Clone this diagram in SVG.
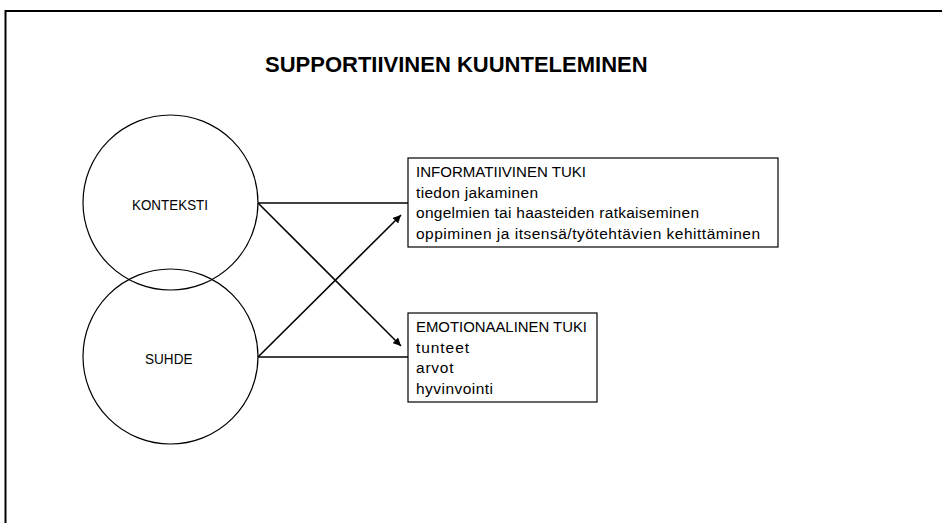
<svg xmlns="http://www.w3.org/2000/svg" width="942" height="523" viewBox="0 0 942 523">
  <defs>
    <style>
      .t { font-family: "Liberation Sans", Arial, sans-serif; font-size: 15.5px; fill: #000; }
      .title { font-family: "Liberation Sans", Arial, sans-serif; font-size: 22px; font-weight: bold; fill: #000; }
      .lbl { font-family: "Liberation Sans", Arial, sans-serif; font-size: 15px; fill: #000; }
      .shape { fill: none; stroke: #000; stroke-width: 1.2; }
      .box { fill: #fff; stroke: #000; stroke-width: 1.2; }
      .conn { fill: none; stroke: #000; stroke-width: 1.6; }
    </style>
    <marker id="arrow" viewBox="0 0 10 10" refX="10" refY="5" markerWidth="5" markerHeight="5" orient="auto" markerUnits="strokeWidth">
      <path d="M0,0 L10,5 L0,10 z" fill="#000"/>
    </marker>
  </defs>
  <rect width="942" height="523" fill="#fff"/>
  <path d="M5.5,525 V11 H945" fill="none" stroke="#000" stroke-width="2"/>

  <text class="title" x="265" y="72">SUPPORTIIVINEN KUUNTELEMINEN</text>

  <g id="connectors">
    <line class="conn" x1="258" y1="203" x2="408" y2="203"/>
    <line class="conn" x1="258" y1="357" x2="408" y2="357"/>
    <line class="conn" x1="258" y1="203" x2="401" y2="346" marker-end="url(#arrow)"/>
    <line class="conn" x1="258" y1="357" x2="401" y2="215" marker-end="url(#arrow)"/>
  </g>

  <g id="konteksti">
    <circle class="shape" cx="170.5" cy="202.5" r="87.5"/>
    <text class="lbl" x="132" y="210" textLength="76" lengthAdjust="spacingAndGlyphs">KONTEKSTI</text>
  </g>
  <g id="suhde">
    <circle class="shape" cx="170.5" cy="356.5" r="87.5"/>
    <text class="lbl" x="145" y="364" textLength="47.5" lengthAdjust="spacingAndGlyphs">SUHDE</text>
  </g>

  <g id="informatiivinen">
    <rect class="box" x="408" y="158" width="370" height="89"/>
    <text class="t" x="416" y="177" textLength="170" lengthAdjust="spacingAndGlyphs">INFORMATIIVINEN TUKI</text>
    <text class="t" x="416" y="197.5" textLength="122">tiedon jakaminen</text>
    <text class="t" x="416" y="218" textLength="283">ongelmien tai haasteiden ratkaiseminen</text>
    <text class="t" x="416" y="238.5" textLength="344">oppiminen ja itsensä/työtehtävien kehittäminen</text>
  </g>
  <g id="emotionaalinen">
    <rect class="box" x="408" y="313" width="189" height="89"/>
    <text class="t" x="416" y="332" textLength="171" lengthAdjust="spacingAndGlyphs">EMOTIONAALINEN TUKI</text>
    <text class="t" x="416" y="352.5" textLength="53">tunteet</text>
    <text class="t" x="416" y="373" textLength="37.5">arvot</text>
    <text class="t" x="416" y="393.5" textLength="77">hyvinvointi</text>
  </g>
</svg>
